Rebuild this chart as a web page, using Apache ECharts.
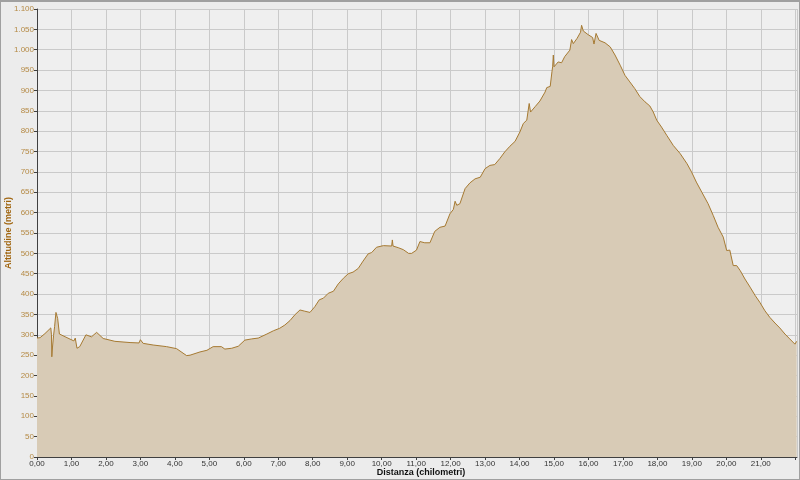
<!DOCTYPE html>
<html><head><meta charset="utf-8">
<script src="https://cdn.jsdelivr.net/npm/echarts@6/dist/echarts.min.js"></script>
<style>
html,body{margin:0;padding:0;background:#ececec;}
#c{width:798px;height:477px;border:1px solid #a0a0a0;border-top:2px solid #a0a0a0;}
</style></head><body>
<div id="c"></div>
<script>
var distanceKm = [0.00,0.09,0.23,0.40,0.42,0.43,0.45,0.48,0.51,0.55,
0.60,0.65,0.87,1.07,1.11,1.16,1.24,1.42,1.58,1.73,
1.92,2.26,2.70,2.96,3.00,3.08,3.37,3.76,4.05,4.10,
4.34,4.44,4.73,4.93,5.11,5.35,5.45,5.65,5.84,6.03,
6.23,6.42,6.67,6.86,7.04,7.19,7.34,7.48,7.63,7.77,
7.92,8.06,8.19,8.31,8.45,8.60,8.74,8.89,9.03,9.17,
9.32,9.46,9.61,9.71,9.85,10.05,10.29,10.31,10.33,10.48,
10.63,10.78,10.87,11.01,11.11,11.25,11.40,11.54,11.69,11.84,
11.98,12.08,12.13,12.18,12.27,12.42,12.56,12.71,12.86,13.00,
13.14,13.28,13.43,13.57,13.72,13.87,14.01,14.11,14.21,14.28,
14.32,14.45,14.59,14.74,14.79,14.89,14.94,14.96,14.98,15.00,
15.03,15.12,15.22,15.31,15.46,15.51,15.56,15.67,15.77,15.80,
15.85,15.99,16.12,16.16,16.22,16.27,16.31,16.48,16.63,16.77,
16.92,17.06,17.20,17.34,17.49,17.64,17.78,17.88,17.98,18.12,
18.27,18.46,18.66,18.86,18.99,19.13,19.29,19.47,19.62,19.76,
19.91,20.01,20.10,20.15,20.20,20.30,20.40,20.54,20.69,20.84,
20.97,21.12,21.26,21.41,21.55,21.70,21.84,21.99,22.04];
var altitudeM = [292,293,303,317,300,246,270,298,320,355,
340,302,293,285,292,267,271,300,295,306,
291,284,281,280,288,279,275,271,266,265,
249,250,258,262,271,271,265,267,272,287,
290,292,302,310,316,324,335,349,361,358,
355,369,386,390,402,407,425,439,450,454,
463,481,499,502,515,519,518,533,518,514,
509,500,500,508,529,526,526,554,564,567,
597,608,628,618,622,659,673,683,687,708,
716,718,733,749,763,775,798,819,827,868,
847,860,874,896,907,910,946,958,987,958,
962,970,968,983,999,1025,1015,1028,1043,1060,
1046,1037,1030,1014,1040,1037,1023,1017,1007,987,
962,937,921,905,885,872,862,847,827,810,
790,765,745,720,700,675,650,622,593,564,
540,507,508,506,470,470,458,437,417,396,
380,359,343,329,317,302,290,277,284];
var xAxisTitle = 'Distanza (chilometri)';
var yAxisTitle = 'Altitudine (metri)';

var pts = distanceKm.map(function(d,i){return [d, altitudeM[i]];});
var fontF = '"Liberation Sans Narrow","Liberation Sans",Arial,sans-serif';
var chart = echarts.init(document.getElementById('c'));
chart.setOption({
  animation:false,
  backgroundColor:'#ececec',
  grid:{left:36,right:2,top:7,bottom:22,show:true,backgroundColor:'#efefef',borderWidth:0,
    containLabel:false,outerBoundsMode:'none'},
  xAxis:{type:'value',min:0,max:22.05,interval:1,
    name:xAxisTitle,nameLocation:'middle',nameGap:11,nameMoveOverlap:false,
    nameTextStyle:{fontFamily:fontF,fontSize:9,fontWeight:'bold',color:'#111',padding:[0,0,0,8],verticalAlign:'top'},
    axisLine:{show:true,lineStyle:{color:'#404040',width:1}},
    axisTick:{show:true,length:3,lineStyle:{color:'#404040'}},
    axisLabel:{fontFamily:fontF,fontSize:8,color:'#333',margin:3,showMaxLabel:false,
      formatter:function(v){ if(v>21.5) return ''; return v.toFixed(2).replace('.',','); }},
    splitLine:{show:true,lineStyle:{color:'#cacaca',width:1}}
  },
  yAxis:{type:'value',min:0,max:1100,interval:50,
    name:yAxisTitle,nameLocation:'middle',nameGap:24,nameRotate:90,nameMoveOverlap:false,
    nameTextStyle:{fontFamily:fontF,fontSize:9,fontWeight:'bold',color:'#a0650f'},
    axisLine:{show:true,lineStyle:{color:'#404040',width:1}},
    axisTick:{show:true,length:3,lineStyle:{color:'#404040'}},
    axisLabel:{fontFamily:fontF,fontSize:8,color:'#b58a45',margin:3,
      formatter:function(v){ return String(v).replace(/\B(?=(\d{3})+(?!\d))/g,'.'); }},
    splitLine:{show:true,lineStyle:{color:'#cacaca',width:1}}
  },
  series:[{type:'line',data:pts,symbol:'none',smooth:false,
    lineStyle:{color:'#a67a32',width:1},
    areaStyle:{color:'#d8cbb6',opacity:1}}]
});
</script></body></html>
